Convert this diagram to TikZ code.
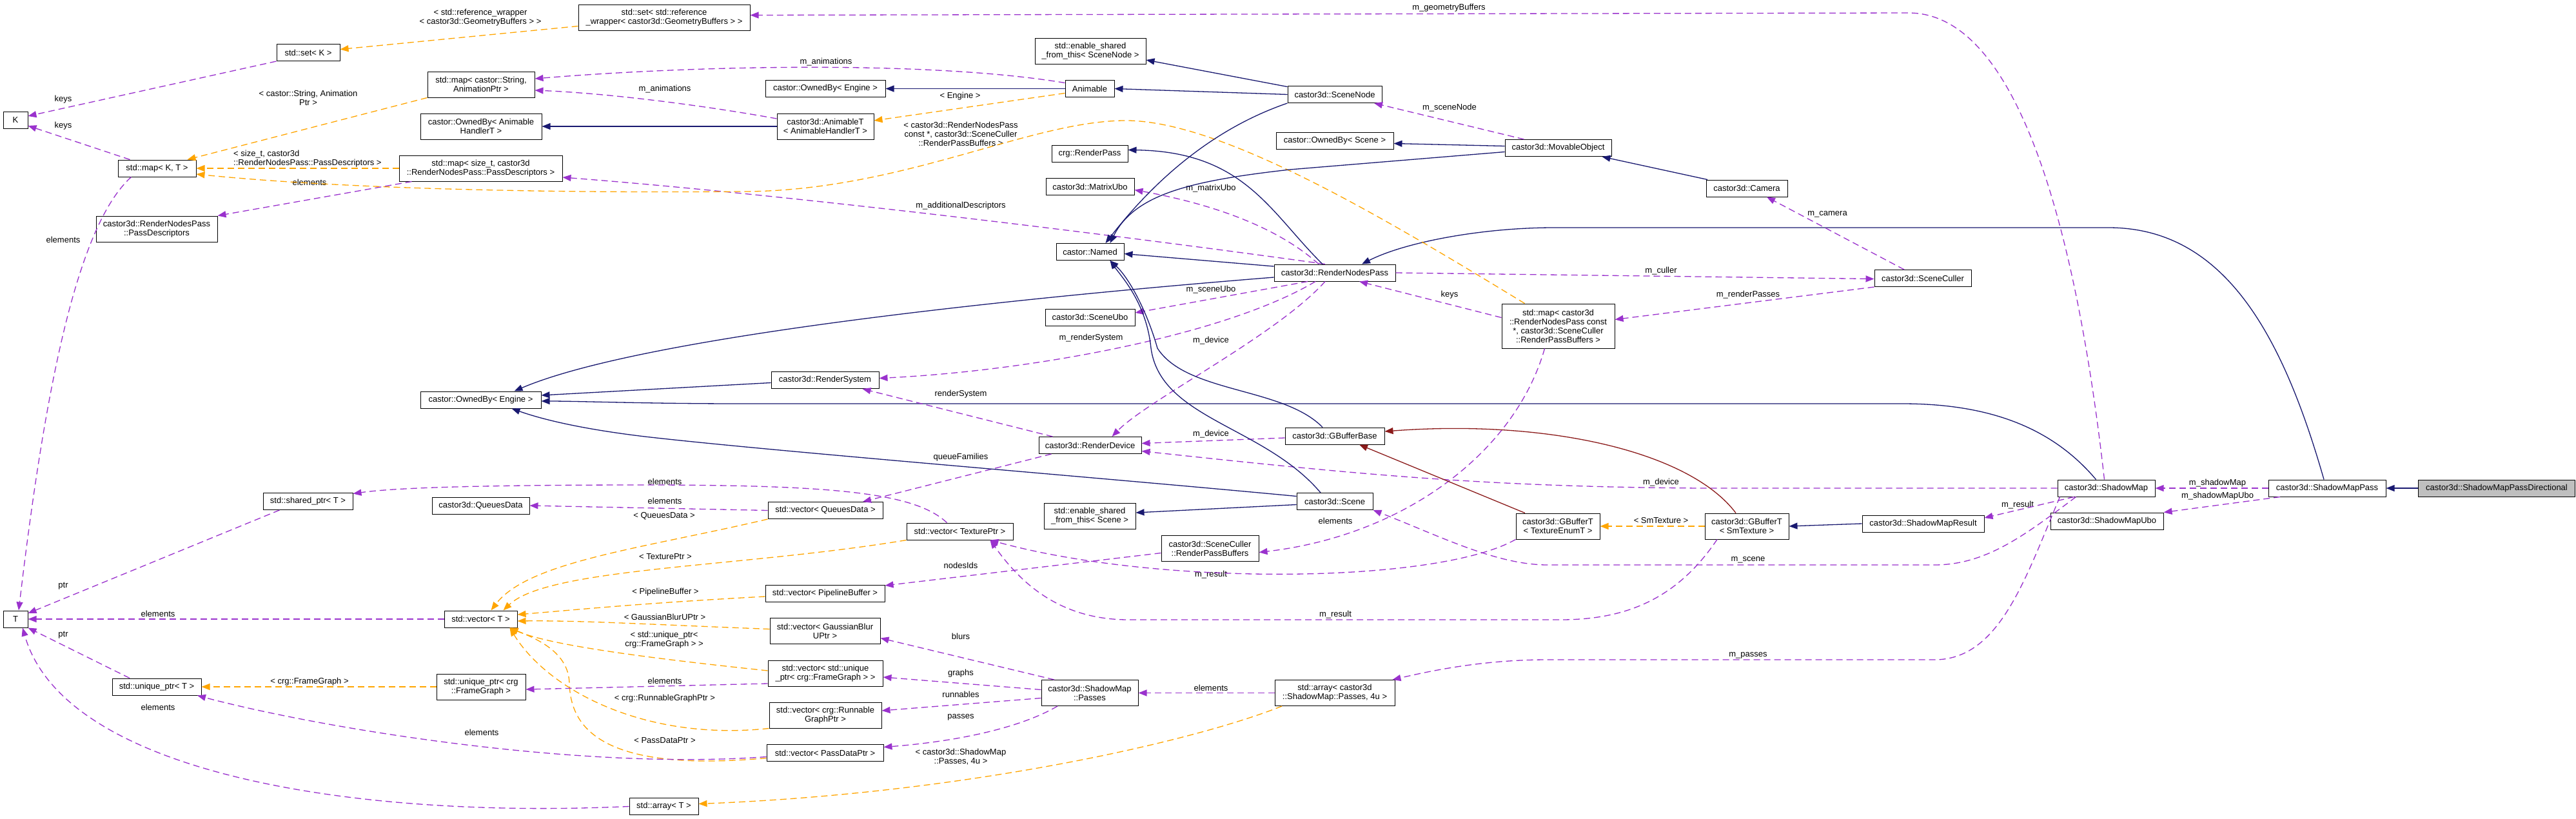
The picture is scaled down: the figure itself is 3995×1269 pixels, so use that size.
\documentclass[tikz,border=0pt]{standalone}
\usepackage{fontspec}
\usetikzlibrary{arrows.meta}
\newfontfamily\lsans{Liberation Sans}
\newcommand\dxfont{\lsans\fontsize{13pt}{14pt}\selectfont}
\definecolor{navy}{HTML}{191970}
\definecolor{purp}{HTML}{9A32CD}
\definecolor{orng}{HTML}{FFA500}
\definecolor{dred}{HTML}{8B1A1A}
\definecolor{gbox}{HTML}{BFBFBF}
\definecolor{shad}{HTML}{808080}
\tikzset{
  box/.style={draw=black, line width=1pt, fill=white, inner sep=0pt, align=center, font=\dxfont,
    append after command={[draw=shad, line width=1.2pt] ([xshift=1.2pt]\tikzlastnode.north east) -- ([xshift=1.2pt,yshift=-1.2pt]\tikzlastnode.south east) -- ([yshift=-1.2pt]\tikzlastnode.south west)}},
  b1/.style={box, minimum height=26pt},
  b2/.style={box, minimum height=40pt},
  lbl/.style={inner sep=0pt, align=center, font=\dxfont},
  tip/.style={-{Triangle[length=13pt,width=10pt]}},
  inh/.style={tip, draw=navy, line width=1.3pt},
  priv/.style={tip, draw=dred, line width=1.3pt},
  use/.style={tip, draw=purp, line width=1.3pt, dash pattern=on 10pt off 6pt},
  tmpl/.style={tip, draw=orng, line width=1.3pt, dash pattern=on 10pt off 6pt},
}
\begin{document}
\begin{tikzpicture}[x=1pt,y=-1pt]
\fill[white] (0,0) rectangle (3995,1269);
\useasboundingbox (0,0) rectangle (3995,1269);

% ---------------- nodes ----------------
\node[b1, minimum width=243pt, fill=gbox] (smpd) at (3872,757) {castor3d::ShadowMapPassDirectional};
\node[b1, minimum width=182pt] (smp) at (3609,757) {castor3d::ShadowMapPass};
\node[b1, minimum width=151pt] (sm) at (3266.5,757) {castor3d::ShadowMap};
\node[b1, minimum width=175pt] (smubo) at (3267.5,808) {castor3d::ShadowMapUbo};
\node[b1, minimum width=189pt] (smres) at (2982.5,812) {castor3d::ShadowMapResult};
\node[b2, minimum width=130pt] (gbsm) at (2709,816) {castor3d::GBufferT\\< SmTexture >};
\node[b2, minimum width=130pt] (gbte) at (2416,816) {castor3d::GBufferT\\< TextureEnumT >};
\node[b1, minimum width=154pt] (gbb) at (2070,676) {castor3d::GBufferBase};
\node[b1, minimum width=118pt] (scene) at (2070,777.5) {castor3d::Scene};
\node[b1, minimum width=150pt] (sc) at (2982,431.5) {castor3d::SceneCuller};
\node[b1, minimum width=126pt] (cam) at (2709,292) {castor3d::Camera};
\node[b1, minimum width=165pt] (mo) at (2416.5,229.5) {castor3d::MovableObject};
\node[b1, minimum width=146pt] (sn) at (2070,146.5) {castor3d::SceneNode};
\node[b1, minimum width=182pt] (obscene) at (2070,218.5) {castor::OwnedBy< Scene >};
\node[b1, minimum width=188pt] (rnp) at (2070,423) {castor3d::RenderNodesPass};
\node[box, minimum width=175pt, minimum height=69pt] (maprnp) at (2416.5,505.5) {std::map< castor3d\\::RenderNodesPass const\\{}*, castor3d::SceneCuller\\::RenderPassBuffers >};
\node[b2, minimum width=266pt] (setref) at (1030,27.5) {std::set< std::reference\\\_wrapper< castor3d::GeometryBuffers > >};
\node[b2, minimum width=172pt] (esn) at (1691,79) {std::enable\_shared\\\_from\_this< SceneNode >};
\node[b1, minimum width=76pt] (animable) at (1690,137.5) {Animable};
\node[b1, minimum width=186pt] (obeng1) at (1280,137.5) {castor::OwnedBy< Engine >};
\node[b2, minimum width=150pt] (animt) at (1280,196) {castor3d::AnimableT\\< AnimableHandlerT >};
\node[b2, minimum width=188pt] (obah) at (746,196) {castor::OwnedBy< Animable\\HandlerT >};
\node[b2, minimum width=166pt] (mapstr) at (746,131) {std::map< castor::String,\\AnimationPtr >};
\node[b1, minimum width=98pt] (setk) at (478,81.5) {std::set< K >};
\node[b1, minimum width=38pt] (K) at (24,186) {K};
\node[b1, minimum width=121pt] (mapkt) at (243.5,261) {std::map< K, T >};
\node[b2, minimum width=253pt] (mapsz) at (745.5,261) {std::map< size\_t, castor3d\\::RenderNodesPass::PassDescriptors >};
\node[b2, minimum width=188pt] (pd) at (243,355) {castor3d::RenderNodesPass\\::PassDescriptors};
\node[b1, minimum width=118pt] (rp) at (1690,238.5) {crg::RenderPass};
\node[b1, minimum width=137pt] (mubo) at (1690.5,289.5) {castor3d::MatrixUbo};
\node[b1, minimum width=105pt] (named) at (1690.5,390.5) {castor::Named};
\node[b1, minimum width=139pt] (subo) at (1690.5,492) {castor3d::SceneUbo};
\node[b1, minimum width=167pt] (rs) at (1279.5,589.5) {castor3d::RenderSystem};
\node[b1, minimum width=187pt] (obeng) at (745.5,620) {castor::OwnedBy< Engine >};
\node[b1, minimum width=159pt] (rd) at (1690.5,690.5) {castor3d::RenderDevice};
\node[b1, minimum width=139pt] (shptr) at (477.5,777.5) {std::shared\_ptr< T >};
\node[b1, minimum width=151pt] (qd) at (745.5,784) {castor3d::QueuesData};
\node[b1, minimum width=178pt] (vqd) at (1280,791.5) {std::vector< QueuesData >};
\node[b1, minimum width=165pt] (vtex) at (1488.5,824) {std::vector< TexturePtr >};
\node[b2, minimum width=142pt] (ess) at (1690,800) {std::enable\_shared\\\_from\_this< Scene >};
\node[b2, minimum width=151pt] (rpb) at (1876.5,850.5) {castor3d::SceneCuller\\::RenderPassBuffers};
\node[b1, minimum width=185pt] (vpb) at (1279.5,920) {std::vector< PipelineBuffer >};
\node[b2, minimum width=171pt] (vgb) at (1279.5,978.5) {std::vector< GaussianBlur\\UPtr >};
\node[b2, minimum width=178pt] (vfg) at (1280,1044) {std::vector< std::unique\\\_ptr< crg::FrameGraph > >};
\node[b2, minimum width=174pt] (vrg) at (1280,1109) {std::vector< crg::Runnable\\GraphPtr >};
\node[b1, minimum width=181pt] (vpd) at (1279.5,1167.5) {std::vector< PassDataPtr >};
\node[b2, minimum width=150pt] (passes) at (1690,1074.5) {castor3d::ShadowMap\\::Passes};
\node[b2, minimum width=186pt] (arrp) at (2070,1074.5) {std::array< castor3d\\::ShadowMap::Passes, 4u >};
\node[b1, minimum width=107pt] (arrt) at (1029.5,1250.5) {std::array< T >};
\node[b1, minimum width=38pt] (T) at (24,960) {T};
\node[b1, minimum width=113pt] (vt) at (745.5,960) {std::vector< T >};
\node[b1, minimum width=138pt] (ut) at (243,1065) {std::unique\_ptr< T >};
\node[b2, minimum width=138pt] (ufg) at (746,1065) {std::unique\_ptr< crg\\::FrameGraph >};

% ---------------- labels ----------------
\node[lbl] (l01) at (3439,749) {m\_shadowMap};
\node[lbl] (l02) at (3439,769) {m\_shadowMapUbo};
\node[lbl] (l03) at (3129,783) {m\_result};
\node[lbl] (l04) at (2576,748) {m\_device};
\node[lbl] (l05) at (2576,807) {< SmTexture >};
\node[lbl] (l06) at (2071,808) {elements};
\node[lbl] (l07) at (2711,868) {m\_scene};
\node[lbl] (l08) at (2071,953) {m\_result};
\node[lbl] (l09) at (2711,1016) {m\_passes};
\node[lbl] (l10) at (1878,1067) {elements};
\node[lbl] (l11) at (1490,1174) {< castor3d::ShadowMap\\::Passes, 4u >};
\node[lbl] (l12) at (1490,987) {blurs};
\node[lbl] (l13) at (1490,1044) {graphs};
\node[lbl] (l14) at (1490,1077) {runnables};
\node[lbl] (l15) at (1490,1112) {passes};
\node[lbl] (l16) at (1490,877) {nodesIds};
\node[lbl] (l17) at (1878,891) {m\_result};
\node[lbl] (l18) at (1031,747) {elements};
\node[lbl] (l19) at (1031,777) {elements};
\node[lbl] (l20) at (1030,800) {< QueuesData >};
\node[lbl] (l21) at (1490,709) {queueFamilies};
\node[lbl] (l22) at (1490,611) {renderSystem};
\node[lbl] (l23) at (1878,673) {m\_device};
\node[lbl] (l24) at (1692,524) {m\_renderSystem};
\node[lbl] (l25) at (1878,528) {m\_device};
\node[lbl] (l26) at (1878,449) {m\_sceneUbo};
\node[lbl] (l27) at (1878,292) {m\_matrixUbo};
\node[lbl] (l28) at (1490,319) {m\_additionalDescriptors};
\node[lbl] (l29) at (2576,420) {m\_culler};
\node[lbl] (l30) at (2711,457) {m\_renderPasses};
\node[lbl] (l31) at (2248,457) {keys};
\node[lbl] (l32) at (2834,332) {m\_camera};
\node[lbl] (l33) at (2248,167) {m\_sceneNode};
\node[lbl] (l34) at (2247,12) {m\_geometryBuffers};
\node[lbl] (l35) at (1490,208) {< castor3d::RenderNodesPass\\const *, castor3d::SceneCuller\\::RenderPassBuffers >};
\node[lbl] (l36) at (1489,149) {< Engine >};
\node[lbl] (l37) at (1281,96) {m\_animations};
\node[lbl] (l38) at (1031,138) {m\_animations};
\node[lbl] (l39) at (745,27) {< std::reference\_wrapper\\< castor3d::GeometryBuffers > >};
\node[lbl] (l40) at (478,152) {< castor::String, Animation\\Ptr >};
\node[lbl, align=left, anchor=west] (l41) at (362,246) {< size\_t, castor3d\\::RenderNodesPass::PassDescriptors >};
\node[lbl] (l42) at (480,283) {elements};
\node[lbl] (l43) at (98,154) {keys};
\node[lbl] (l44) at (98,195) {keys};
\node[lbl] (l45) at (98,372) {elements};
\node[lbl] (l46) at (98,909) {ptr};
\node[lbl] (l47) at (245,952) {elements};
\node[lbl] (l48) at (98,985) {ptr};
\node[lbl] (l49) at (480,1057) {< crg::FrameGraph >};
\node[lbl] (l50) at (245,1097) {elements};
\node[lbl] (l51) at (747,1136) {elements};
\node[lbl] (l52) at (1031,1056) {elements};
\node[lbl] (l53) at (1032,863) {< TexturePtr >};
\node[lbl] (l54) at (1032,918) {< PipelineBuffer >};
\node[lbl] (l55) at (1031,957) {< GaussianBlurUPtr >};
\node[lbl] (l56) at (1030,992) {< std::unique\_ptr<\\crg::FrameGraph > >};
\node[lbl] (l57) at (1031,1083) {< crg::RunnableGraphPtr >};
\node[lbl] (l58) at (1031,1148) {< PassDataPtr >};

% ---------------- edges ----------------
\draw[inh] (smpd.west) -- (smp.east);
\draw[use] (smp.west) -- (sm.east);
\draw[use] ([xshift=-73pt]smp.south) -- (smubo.north east);
\draw[inh] ([xshift=-5pt]smp.north) .. controls (3540,520) and (3450,353) .. (3270,353) -- (2410,353) .. controls (2300,353) and (2180,375) .. ([xshift=42pt]rnp.north);
\draw[inh] ([xshift=-16pt]sm.north) .. controls (3180,660) and (3080,626) .. (2950,626) -- (1150,626) .. controls (1000,626) and (900,622) .. ([yshift=-2pt]obeng.east);
\draw[use] (sm.west) -- (2640,757) .. controls (2300,755) and (2100,735) .. ([yshift=-9pt]rd.east);
\draw[use] ([yshift=-3pt]gbb.west) -- ([yshift=3pt]rd.east);
\draw[use] ([xshift=-3pt]sm.north) .. controls (3225,400) and (3140,20) .. (2960,20) -- ([yshift=4pt]setref.east);
\draw[use] ([xshift=-50pt]sm.south) -- ([yshift=9pt]smres.east);
\draw[use] ([xshift=-47pt]sm.south) .. controls (3140,830) and (3080,876) .. (3000,876) -- (2400,876) .. controls (2320,876) and (2230,830) .. (scene.south east);
\draw[use] ([xshift=-72pt]sm.south) .. controls (3140,900) and (3100,1023) .. (3000,1023) -- (2400,1023) .. controls (2300,1023) and (2220,1040) .. ([xshift=-4pt]arrp.north east);
\draw[use] (arrp.west) -- (passes.east);
\draw[tmpl] ([xshift=-82pt]arrp.south) .. controls (1850,1150) and (1500,1230) .. ([yshift=4pt]arrt.east);
\draw[use] ([xshift=-55pt]passes.north) -- ([yshift=-11pt]vgb.east);
\draw[use] ([yshift=5pt]passes.west) -- ([yshift=-6pt]vfg.east);
\draw[use] ([yshift=-8pt]passes.west) -- ([yshift=7pt]vrg.east);
\draw[use] ([xshift=-50pt]passes.south) .. controls (1580,1130) and (1480,1150) .. ([yshift=9pt]vpd.east);
\draw[use] ([yshift=-7pt]rpb.west) -- ([yshift=12pt]vpb.east);
\draw[use] ([xshift=-21pt]maprnp.south) .. controls (2350,700) and (2180,830) .. ([yshift=-6pt]rpb.east);
\draw[use] (gbte.south west) .. controls (2230,905) and (1800,910) .. ([xshift=47pt]vtex.south);
\draw[use] ([xshift=-46pt]gbsm.south) .. controls (2600,930) and (2520,961) .. (2420,961) -- (1750,961) .. controls (1640,961) and (1580,900) .. ([xshift=47pt]vtex.south);
\draw[use] ([xshift=-20pt]vtex.north) .. controls (1420,765) and (1300,752) .. (1000,752) .. controls (700,752) and (600,758) .. ([yshift=12pt]shptr.east);
\draw[use] (vqd.west) -- (qd.east);
\draw[tmpl] (vqd.south west) .. controls (1000,850) and (820,870) .. ([xshift=16pt]vt.north);
\draw[use] ([xshift=-60pt]rd.south) -- ([xshift=58pt]vqd.north);
\draw[use] ([xshift=-58pt]rd.north) -- ([xshift=58pt]rs.south);
\draw[use] ([xshift=-42pt]rnp.south) -- ([yshift=7pt]subo.east);
\draw[use] ([xshift=-30pt]rnp.south) .. controls (1900,520) and (1600,575) .. ([yshift=3pt]rs.east);
\draw[use] ([xshift=-15pt]rnp.south) .. controls (1980,520) and (1780,620) .. ([xshift=34pt]rd.north);
\draw[use] ([xshift=-25pt]rnp.north) .. controls (1990,360) and (1900,320) .. ([yshift=-5pt]mubo.east);
\draw[use] ([xshift=-15pt]rnp.north) .. controls (1700,360) and (1200,300) .. ([yshift=-14pt]mapsz.east);
\draw[use] (rnp.east) -- ([yshift=-1pt]sc.west);
\draw[use] (sc.south west) -- ([yshift=10pt]maprnp.east);
\draw[use] ([yshift=13pt]maprnp.west) -- ([xshift=38pt]rnp.south);
\draw[tmpl] ([xshift=-52pt]maprnp.north) .. controls (2150,340) and (1900,190) .. (1750,187) .. controls (1600,185) and (1400,297) .. (1150,297) .. controls (800,300) and (500,290) .. ([yshift=-9pt]mapkt.east);
\draw[tmpl] (mapsz.west) -- (mapkt.east);
\draw[use] ([xshift=-107pt]mapsz.south) -- (pd.north east);
\draw[tmpl] (mapstr.south west) -- ([xshift=47pt]mapkt.north);
\draw[tmpl] ([yshift=-13pt]setref.west) -- ([yshift=5pt]setk.east);
\draw[use] (setk.south west) -- ([yshift=6pt]K.east);
\draw[use] ([xshift=-42pt]mapkt.north) -- ([yshift=-9pt]K.east);
\draw[use] ([xshift=-40pt]mapkt.south) .. controls (120,350) and (70,600) .. ([xshift=5pt]T.north);
\draw[use] ([yshift=9pt]animable.west) .. controls (1450,95) and (1100,100) .. ([yshift=9pt]mapstr.east);
\draw[use] ([yshift=12pt]animt.west) .. controls (1100,165) and (950,145) .. ([yshift=-9pt]mapstr.east);
\draw[inh] (animt.west) -- (obah.east);
\draw[tmpl] ([yshift=-7pt]animable.west) -- ([yshift=9pt]animt.east);
\draw[inh] (animable.west) -- (obeng1.east);
\draw[inh] (sn.west) -- (animable.east);
\draw[inh] ([yshift=12pt]sn.west) -- ([yshift=-14pt]esn.east);
\draw[inh] (sn.south west) .. controls (1880,200) and (1790,280) .. ([xshift=24pt]named.north);
\draw[use] ([xshift=-53pt]mo.north) -- ([xshift=61pt]sn.south);
\draw[inh] ([yshift=3pt]mo.west) -- ([yshift=-4pt]obscene.east);
\draw[inh] ([yshift=-6pt]mo.west) -- (2000,263) .. controls (1850,280) and (1760,300) .. ([xshift=31pt]named.north);
\draw[inh] ([xshift=-61pt]cam.north) -- ([xshift=68pt]mo.south);
\draw[use] ([xshift=-29pt]sc.north) -- ([xshift=31pt]cam.south);
\draw[inh] ([xshift=-19pt]rnp.north) .. controls (1970,330) and (1930,235) .. ([yshift=6pt]rp.east);
\draw[inh] ([yshift=10pt]rnp.west) -- ([yshift=-3pt]named.east);
\draw[inh] ([yshift=-7pt]rnp.west) .. controls (1600,460) and (1000,520) .. ([xshift=52pt]obeng.north);
\draw[inh] ([yshift=-4pt]rs.west) -- ([yshift=7pt]obeng.east);
\draw[inh] ([yshift=8pt]scene.west) .. controls (1700,740) and (1200,700) .. (1000,677) .. controls (900,665) and (840,650) .. ([xshift=48pt]obeng.south);
\draw[inh] ([yshift=-5pt]scene.west) -- ([yshift=5pt]ess.east);
\draw[inh] ([xshift=-22pt]scene.north) .. controls (1960,660) and (1800,650) .. (1785,540) .. controls (1778,470) and (1740,430) .. ([xshift=31pt]named.south);
\draw[inh] ([xshift=-19pt]gbb.north) .. controls (1990,600) and (1840,610) .. (1795,540) .. controls (1778,480) and (1750,430) .. ([xshift=31pt]named.south);
\draw[priv] ([xshift=-51pt]gbte.north) -- ([xshift=38pt]gbb.south);
\draw[priv] ([xshift=-17pt]gbsm.north) .. controls (2620,700) and (2400,650) .. ([yshift=7pt]gbb.east);
\draw[tmpl] (gbsm.west) -- (gbte.east);
\draw[inh] (smres.west) -- (gbsm.east);
\draw[tmpl] (vtex.south west) .. controls (1150,880) and (850,880) .. ([xshift=35pt]vt.north);
\draw[tmpl] ([yshift=-5pt]vpb.west) .. controls (1000,935) and (900,945) .. ([yshift=7pt]vt.east);
\draw[tmpl] ([yshift=3pt]vgb.west) .. controls (1000,968) and (900,962) .. ([yshift=-3pt]vt.east);
\draw[tmpl] ([yshift=4pt]vfg.west) .. controls (1000,1020) and (850,1000) .. ([xshift=45pt]vt.south);
\draw[tmpl] (vrg.south west) .. controls (1000,1150) and (850,1070) .. ([xshift=45pt]vt.south);
\draw[tmpl] ([yshift=-8pt]vpd.west) .. controls (920,1200) and (885,1120) .. (883,1060) .. controls (882,1010) and (830,990) .. ([xshift=45pt]vt.south);
\draw[tmpl] (ufg.west) -- (ut.east);
\draw[use] ([yshift=-16pt]vfg.west) -- ([yshift=-4pt]ufg.east);
\draw[use] ([yshift=-6pt]vpd.west) .. controls (900,1195) and (500,1130) .. ([xshift=63pt]ut.south);
\draw[use] (arrt.west) .. controls (550,1270) and (100,1200) .. ([xshift=11pt]T.south);
\draw[use] (vt.west) -- (T.east);
\draw[use] ([xshift=-42pt]ut.north) -- (T.south east);
\draw[use] ([xshift=-44pt]shptr.south) -- ([yshift=9pt]T.east);
\end{tikzpicture}
\end{document}
